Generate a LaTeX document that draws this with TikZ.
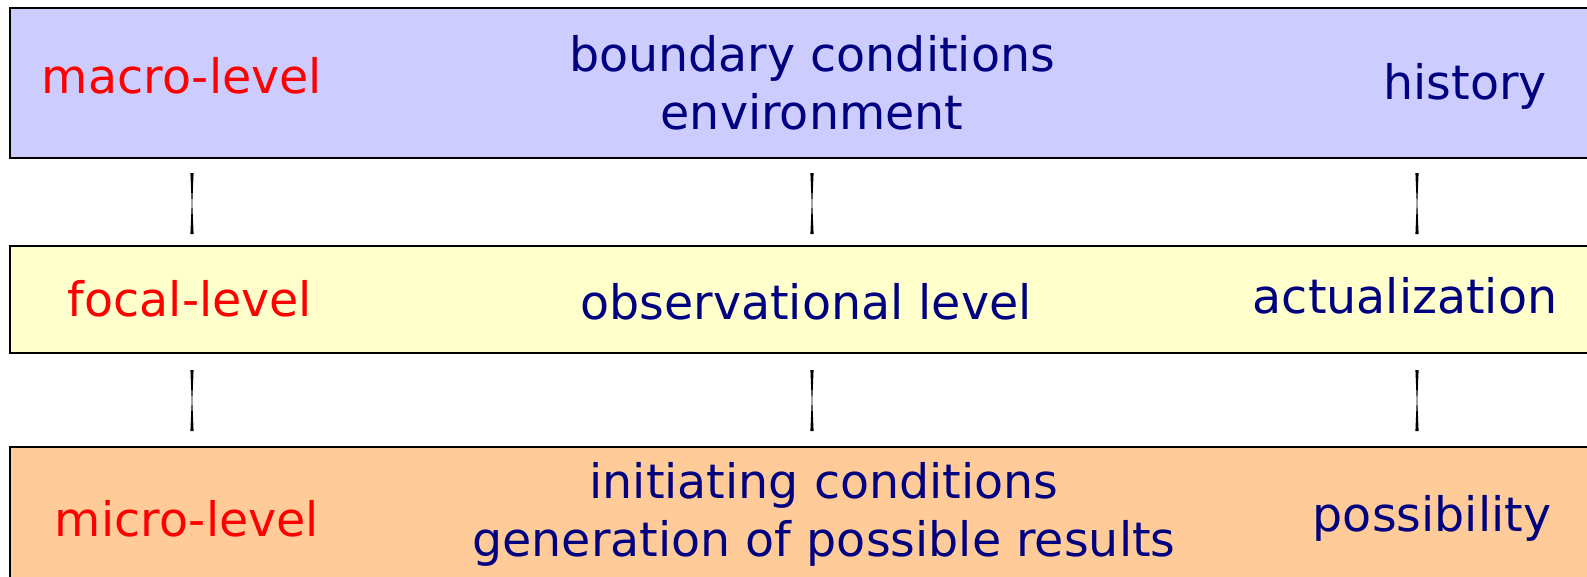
\documentclass[tikz,border=0pt]{standalone}
\usepackage{fontspec}
\setmainfont{DejaVu Sans}
\usetikzlibrary{calc}
\definecolor{topfill}{RGB}{204,204,255}
\definecolor{midfill}{RGB}{255,255,204}
\definecolor{botfill}{RGB}{255,204,153}
\definecolor{navy}{RGB}{0,0,128}
\definecolor{lvlred}{RGB}{255,0,0}
\begin{document}
\begin{tikzpicture}[x=1pt,y=-1pt,
  band/.style={draw=black,line width=2pt},
  lbl/.style={font=\fontsize{47.5}{58}\selectfont,text=navy,align=center,inner sep=0pt},
  lvl/.style={font=\fontsize{47.5}{58}\selectfont,text=lvlred,inner sep=0pt},
  link/.style={fill=black}]
\useasboundingbox (0,0) rectangle (1587,576);
\clip (0,0) rectangle (1587,576);
\fill[white] (0,0) rectangle (1587,576);
\draw[band,fill=topfill] (10,8) rectangle (1600,158);
\draw[band,fill=midfill] (10,246) rectangle (1600,353);
\draw[band,fill=botfill] (10,447) rectangle (1600,590);

\node[lvl] (macro) at (182,76) {macro-level};
\node[lbl] (bc) at (812,83) {boundary conditions\\environment};
\node[lbl] (hist) at (1465,86) {history};

\node[lvl] (focal) at (190,299) {focal-level};
\node[lbl] (obs) at (806,302) {observational level};
\node[lbl] (act) at (1405,296) {actualization};

\node[lvl] (micro) at (187,519) {micro-level};
\node[lbl] (init) at (824,514) {initiating conditions\\generation of possible results};
\node[lbl] (poss) at (1432,518) {possibility};

\foreach \n/\x in {a/192,b/812,c/1417}{
  \coordinate (\n1) at (\x,173);
  \coordinate (\n2) at (\x,234);
  \coordinate (\n3) at (\x,370);
  \coordinate (\n4) at (\x,431);
}
\foreach \n in {a,b,c}{
  \fill[link] ($(\n1)+(-1.6,0)$) -- ($(\n1)+(1.6,0)$) -- ($(\n1)!0.5!(\n2)+(0.3,0)$) -- ($(\n2)+(1.6,0)$) -- ($(\n2)+(-1.6,0)$) -- ($(\n1)!0.5!(\n2)+(-0.3,0)$) -- cycle;
  \fill[link] ($(\n3)+(-1.6,0)$) -- ($(\n3)+(1.6,0)$) -- ($(\n3)!0.5!(\n4)+(0.3,0)$) -- ($(\n4)+(1.6,0)$) -- ($(\n4)+(-1.6,0)$) -- ($(\n3)!0.5!(\n4)+(-0.3,0)$) -- cycle;
}
\end{tikzpicture}
\end{document}
